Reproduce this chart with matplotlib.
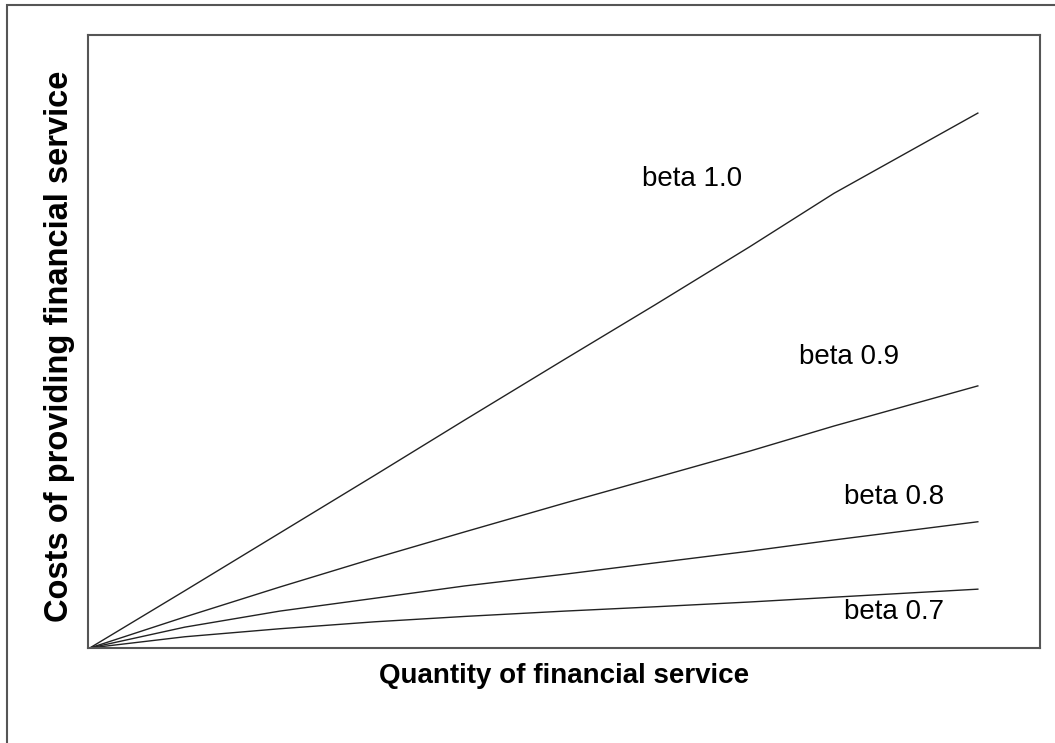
import matplotlib
matplotlib.use("Agg")
from matplotlib import pyplot as plt
from matplotlib.patches import Rectangle

plt.rcParams['font.family'] = ['Liberation Sans', 'DejaVu Sans']

# quantity of financial service (arbitrary units)
quantity = [0, 10.7, 21.4, 32.1, 42.2, 53.5, 63.6, 74.3, 83.8, 100]

# costs for each beta value
cost_b10 = [0, 10.7, 21.5, 32.3, 42.6, 54.0, 64.1, 75.0, 85.0, 100]
cost_b09 = [0, 5.8, 11.4, 16.8, 21.7, 27.1, 31.8, 36.8, 41.5, 49.0]
cost_b08 = [0, 3.9, 6.9, 9.3, 11.6, 13.8, 15.9, 18.1, 20.2, 23.6]
cost_b07 = [0, 2.1, 3.6, 4.9, 5.9, 6.9, 7.7, 8.6, 9.5, 11.0]

labels = ["beta 1.0", "beta 0.9", "beta 0.8", "beta 0.7"]
label_pos = [(67.8, 87.7), (85.5, 54.4), (90.6, 28.2), (90.6, 6.7)]

fig = plt.figure(figsize=(10.55, 7.43), dpi=100)
ax = fig.add_axes([88 / 1055, 1 - 648 / 743, (1040 - 88) / 1055, (648 - 35) / 743])

for series in [cost_b10, cost_b09, cost_b08, cost_b07]:
    ax.plot(quantity, series, color="#222222", linewidth=1.0)

for text, (lx, ly) in zip(labels, label_pos):
    ax.text(lx, ly, text, fontsize=20, ha="center", va="center", color="black")

ax.set_xlim(-0.2, 107.0)
ax.set_ylim(0, 114.6)
ax.set_xticks([])
ax.set_yticks([])
for sp in ax.spines.values():
    sp.set_color("#555555")
    sp.set_linewidth(1.5)

fig.text(564 / 1055, 1 - 676 / 743, "Quantity of financial service",
         fontsize=20, fontweight="bold", ha="center", va="center")
fig.text(60 / 1055, 1 - 346 / 743, "Costs of providing financial service",
         fontsize=23.5, fontweight="bold", ha="center", va="center", rotation=90)

# outer frame (only top and left edges visible in the original)
fig.patches.append(Rectangle((7 / 1055, -0.1), 1.2, 1 - 5 / 743 + 0.1,
                             transform=fig.transFigure, fill=False,
                             edgecolor="#555555", linewidth=1.5))

fig.savefig("out.png", dpi=100)
